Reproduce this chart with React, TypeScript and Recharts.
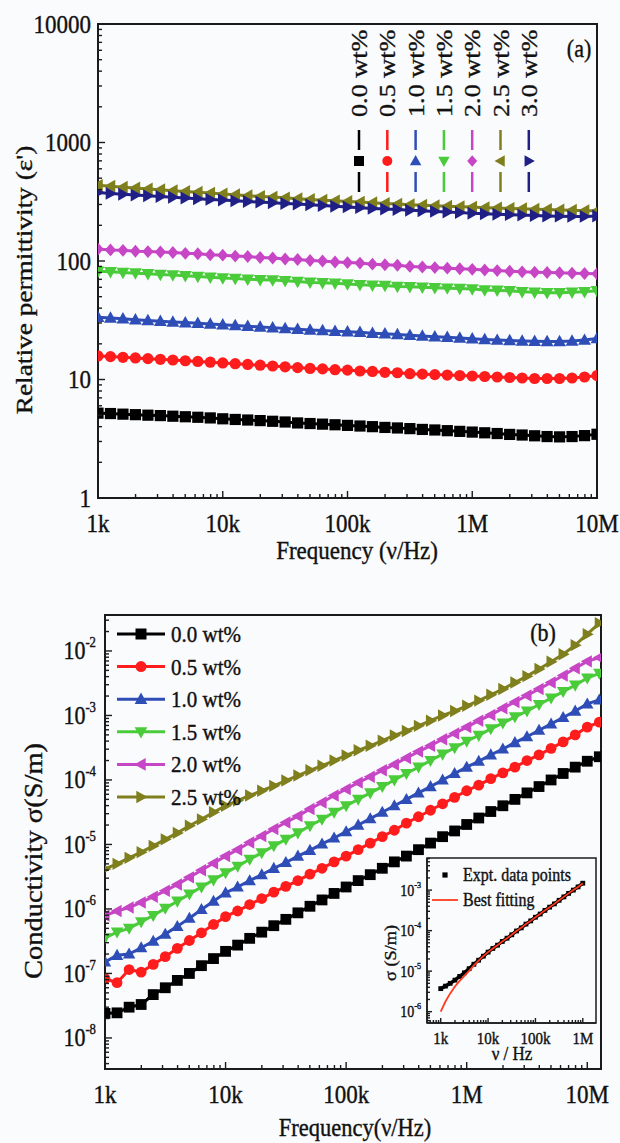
import React from 'react';
import { LineChart, Line, XAxis, YAxis, ReferenceArea } from 'recharts';

const FONT = '"Liberation Serif", "Times New Roman", Times, serif';
const K = 1.14;
const AX = '#1b1b1b';
const BG = '#fafbfd';
const TXT = '#111';

// ---------- Panel (a): relative permittivity ----------
const freqA = [1000, 1259, 1585, 1995, 2512, 3162, 3981, 5012, 6310, 7943,
  10000, 12589, 15849, 19953, 25119, 31623, 39811, 50119, 63096, 79433,
  100000, 125893, 158489, 199526, 251189, 316228, 398107, 501187, 630957, 794328,
  1000000, 1258925, 1584893, 1995262, 2511886, 3162278, 3981072, 5011872, 6309573, 7943282,
  10000000];

const epsA00 = [5.2, 5.16, 5.1, 5.05, 5.0, 4.96, 4.9, 4.85, 4.8, 4.74, 4.66, 4.6, 4.55, 4.5, 4.44, 4.38, 4.3, 4.25, 4.2, 4.15, 4.1, 4.05, 4.0, 3.94, 3.9, 3.85, 3.79, 3.75, 3.7, 3.65, 3.6, 3.55, 3.5, 3.44, 3.4, 3.35, 3.3, 3.28, 3.3, 3.36, 3.45];
const epsA05 = [15.8, 15.6, 15.4, 15.2, 15.0, 14.8, 14.6, 14.4, 14.2, 14.0, 13.8, 13.6, 13.4, 13.2, 13.0, 12.8, 12.6, 12.4, 12.3, 12.1, 12.0, 11.8, 11.7, 11.5, 11.4, 11.2, 11.1, 11.0, 10.9, 10.8, 10.7, 10.6, 10.5, 10.4, 10.3, 10.2, 10.2, 10.2, 10.3, 10.5, 10.8];
const epsA10 = [33.5, 33, 32.5, 32, 31.5, 31, 30.6, 30.2, 29.8, 29.4, 29.0, 28.6, 28.2, 27.8, 27.4, 27.0, 26.6, 26.2, 25.9, 25.6, 25.3, 25.0, 24.6, 24.3, 24.0, 23.6, 23.3, 23.0, 22.7, 22.4, 22.1, 21.8, 21.5, 21.3, 21.1, 21.0, 20.9, 20.9, 21.1, 21.5, 22.2];
const epsA15 = [82, 81, 80, 79, 78, 77, 76, 75, 74, 73, 72, 71, 70, 69.5, 69, 68, 67, 66, 65.5, 65, 64, 63, 62.5, 62, 61, 60.5, 60, 59.5, 59, 58.5, 58, 57, 56.5, 56, 55, 54.5, 54, 54, 54.5, 55, 56];
const epsA20 = [126, 124, 123, 121, 120, 119, 118, 116, 115, 113, 112, 110, 109, 107, 106, 104, 103, 101, 100, 98, 97, 96, 94, 93, 92, 90, 89, 88, 87, 86, 85, 84, 83, 82, 81, 80.5, 80, 79.5, 79, 78.5, 78];
const epsA25 = [435, 428, 420, 413, 406, 399, 392, 386, 380, 374, 368, 362, 356, 351, 346, 341, 336, 331, 326, 322, 318, 314, 310, 306, 302, 299, 296, 293, 290, 287, 285, 282, 280, 278, 276, 274, 272, 270, 268, 266, 265];
const epsA30 = [378, 372, 366, 360, 355, 350, 345, 340, 335, 331, 327, 322, 318, 314, 310, 306, 302, 298, 294, 290, 286, 282, 278, 275, 272, 268, 265, 262, 259, 256, 253, 250, 248, 246, 244, 242, 240, 239, 238, 238, 240];

const labelsA = ['0.0 wt%', '0.5 wt%', '1.0 wt%', '1.5 wt%', '2.0 wt%', '2.5 wt%', '3.0 wt%'];
const colorsA = ['#000000', '#ff1c1c', '#2e4db6', '#4acb3a', '#c646c6', '#7f7f1e', '#1f1f86'];
const shapesA = ['square', 'circle', 'up', 'down', 'diamond', 'left', 'right'];
const valuesA = [epsA00, epsA05, epsA10, epsA15, epsA20, epsA25, epsA30];

const xDomA = [1000, 10000000];
const yDomA = [1, 10000];
const xMajorA = [1000, 10000, 100000, 1000000, 10000000];
const xLabelsA = ['1k', '10k', '100k', '1M', '10M'];
const yMajorA = [1, 10, 100, 1000, 10000];
const yLabelsA = ['1', '10', '100', '1000', '10000'];

// ---------- Panel (b): conductivity ----------
const freqB = [1000, 1259, 1585, 1995, 2512, 3162, 3981, 5012, 6310, 7943,
  10000, 12589, 15849, 19953, 25119, 31623, 39811, 50119, 63096, 79433,
  100000, 125893, 158489, 199526, 251189, 316228, 398107, 501187, 630957, 794328,
  1000000, 1258925, 1584893, 1995262, 2511886, 3162278, 3981072, 5011872, 6309573, 7943282,
  10000000, 12589254];

const sigB00 = [2.4e-8, 2.45e-8, 3.0e-8, 3.3e-8, 4.7e-8, 6.0e-8, 7.8e-8, 1.0e-7, 1.32e-7, 1.7e-7, 2.2e-7, 2.75e-7, 3.5e-7, 4.37e-7, 5.5e-7, 6.9e-7, 8.7e-7, 1.1e-6, 1.38e-6, 1.74e-6, 2.19e-6, 2.75e-6, 3.4e-6, 4.27e-6, 5.37e-6, 6.6e-6, 8.3e-6, 1.05e-5, 1.32e-5, 1.62e-5, 2.04e-5, 2.57e-5, 3.24e-5, 3.98e-5, 5.0e-5, 6.3e-5, 7.9e-5, 1.0e-4, 1.26e-4, 1.58e-4, 1.95e-4, 2.29e-4];
const sigB05 = [8.3e-8, 7.2e-8, 1.15e-7, 1.05e-7, 1.38e-7, 1.82e-7, 2.45e-7, 3.24e-7, 4.27e-7, 5.75e-7, 7.6e-7, 9.3e-7, 1.17e-6, 1.45e-6, 1.82e-6, 2.24e-6, 2.75e-6, 3.47e-6, 4.27e-6, 5.37e-6, 6.6e-6, 8.3e-6, 1.05e-5, 1.32e-5, 1.66e-5, 2.14e-5, 2.69e-5, 3.39e-5, 4.27e-5, 5.37e-5, 6.8e-5, 8.3e-5, 1.05e-4, 1.29e-4, 1.58e-4, 2.0e-4, 2.45e-4, 3.09e-4, 3.89e-4, 5.0e-4, 6.6e-4, 7.9e-4];
const sigB10 = [1.51e-7, 1.91e-7, 2.0e-7, 2.5e-7, 3.16e-7, 4.07e-7, 5.37e-7, 7.2e-7, 9.8e-7, 1.32e-6, 1.78e-6, 2.19e-6, 2.75e-6, 3.39e-6, 4.27e-6, 5.25e-6, 6.6e-6, 8.1e-6, 1.02e-5, 1.26e-5, 1.58e-5, 2.0e-5, 2.51e-5, 3.16e-5, 3.98e-5, 5.0e-5, 6.3e-5, 7.9e-5, 1.0e-4, 1.26e-4, 1.58e-4, 1.95e-4, 2.45e-4, 3.02e-4, 3.8e-4, 4.68e-4, 5.9e-4, 7.4e-4, 9.3e-4, 1.17e-3, 1.51e-3, 1.74e-3];
const sigB15 = [3.55e-7, 4.37e-7, 5.0e-7, 6.3e-7, 7.9e-7, 1.02e-6, 1.32e-6, 1.7e-6, 2.19e-6, 2.82e-6, 3.63e-6, 4.57e-6, 5.9e-6, 7.4e-6, 9.5e-6, 1.2e-5, 1.51e-5, 1.95e-5, 2.45e-5, 3.16e-5, 3.98e-5, 5.0e-5, 6.3e-5, 7.9e-5, 1.0e-4, 1.26e-4, 1.58e-4, 2.0e-4, 2.51e-4, 3.16e-4, 3.98e-4, 4.9e-4, 6.2e-4, 7.6e-4, 9.5e-4, 1.17e-3, 1.48e-3, 1.86e-3, 2.34e-3, 2.95e-3, 3.8e-3, 4.5e-3];
const sigB20 = [7.9e-7, 9.3e-7, 1.05e-6, 1.26e-6, 1.55e-6, 1.91e-6, 2.4e-6, 3.09e-6, 3.98e-6, 5.1e-6, 6.6e-6, 8.3e-6, 1.07e-5, 1.35e-5, 1.74e-5, 2.19e-5, 2.75e-5, 3.55e-5, 4.47e-5, 5.75e-5, 7.2e-5, 9.1e-5, 1.12e-4, 1.41e-4, 1.74e-4, 2.19e-4, 2.75e-4, 3.39e-4, 4.27e-4, 5.25e-4, 6.6e-4, 8.3e-4, 1.02e-3, 1.29e-3, 1.62e-3, 2.04e-3, 2.57e-3, 3.24e-3, 4.17e-3, 5.4e-3, 6.9e-3, 7.9e-3];
const sigB25 = [4.17e-6, 5.0e-6, 6.2e-6, 7.6e-6, 9.5e-6, 1.2e-5, 1.51e-5, 1.95e-5, 2.45e-5, 3.16e-5, 3.98e-5, 4.79e-5, 5.75e-5, 6.8e-5, 8.1e-5, 9.8e-5, 1.17e-4, 1.41e-4, 1.66e-4, 2.0e-4, 2.4e-4, 2.88e-4, 3.39e-4, 4.07e-4, 4.9e-4, 5.75e-4, 6.9e-4, 8.3e-4, 1.0e-3, 1.17e-3, 1.41e-3, 1.7e-3, 2.09e-3, 2.57e-3, 3.24e-3, 4.07e-3, 5.25e-3, 6.8e-3, 8.9e-3, 1.23e-2, 1.82e-2, 2.7e-2];

const labelsB = ['0.0 wt%', '0.5 wt%', '1.0 wt%', '1.5 wt%', '2.0 wt%', '2.5 wt%'];
const colorsB = ['#000000', '#ff1c1c', '#2e4db6', '#4acb3a', '#c646c6', '#7f7f1e'];
const shapesB = ['square', 'circle', 'up', 'down', 'left', 'right'];
const valuesB = [sigB00, sigB05, sigB10, sigB15, sigB20, sigB25];

const xDomB = [1000, 13000000];
const yDomB = [3.3e-9, 0.0361];
const xMajorB = [1000, 10000, 100000, 1000000, 10000000];
const xLabelsB = ['1k', '10k', '100k', '1M', '10M'];
const yMajorB = [1e-8, 1e-7, 1e-6, 1e-5, 1e-4, 1e-3, 1e-2];
const yExpB = ['-8', '-7', '-6', '-5', '-4', '-3', '-2'];

// ---------- Inset ----------
const freqIn = [1000, 1259, 1585, 1995, 2512, 3162, 3981, 5012, 6310, 7943,
  10000, 12589, 15849, 19953, 25119, 31623, 39811, 50119, 63096, 79433,
  100000, 125893, 158489, 199526, 251189, 316228, 398107, 501187, 630957, 794328,
  1000000];
const exptIn = [3.7e-6, 4.27e-6, 5.0e-6, 6.0e-6, 7.4e-6, 9.1e-6, 1.15e-5, 1.48e-5, 1.86e-5, 2.34e-5, 2.95e-5, 3.63e-5, 4.37e-5, 5.4e-5, 6.5e-5, 7.9e-5, 9.8e-5, 1.17e-4, 1.45e-4, 1.74e-4, 2.14e-4, 2.57e-4, 3.16e-4, 3.8e-4, 4.57e-4, 5.6e-4, 6.8e-4, 8.3e-4, 1.0e-3, 1.2e-3, 1.48e-3];
const fitIn = [1.0e-6, 1.78e-6, 2.82e-6, 4.17e-6, 5.75e-6, 7.6e-6, 1.02e-5, 1.38e-5, 1.82e-5, 2.34e-5, 2.95e-5, 3.63e-5, 4.37e-5, 5.4e-5, 6.5e-5, 7.9e-5, 9.8e-5, 1.17e-4, 1.45e-4, 1.74e-4, 2.14e-4, 2.57e-4, 3.16e-4, 3.8e-4, 4.57e-4, 5.6e-4, 6.8e-4, 8.3e-4, 1.0e-3, 1.2e-3, 1.48e-3];
const xDomIn = [513, 1900000];
const yDomIn = [5.25e-7, 6.2e-3];
const xMajorIn = [1000, 10000, 100000, 1000000];
const xLabelsIn = ['1k', '10k', '100k', '1M'];
const yMajorIn = [1e-6, 1e-5, 1e-4, 1e-3];
const yExpIn = ['-6', '-5', '-4', '-3'];

// ---------- helpers ----------
function minorTicks(majorsFrom: number[], lo: number, hi: number) {
  const out: number[] = [];
  majorsFrom.forEach((m) => {
    for (let k = 2; k <= 9; k++) {
      const v = m * k;
      if (v >= lo && v <= hi) out.push(v);
    }
  });
  return out;
}
function withMinors(majors: number[], decades: number[], dom: number[]) {
  const all = [...majors.filter((m) => m >= dom[0] && m <= dom[1]), ...minorTicks(decades, dom[0], dom[1])];
  return all.sort((a, b) => a - b);
}
function findMajor(v: number, majors: number[]) {
  return majors.findIndex((m) => Math.abs(v - m) <= Math.abs(m) * 1e-6);
}

function Marker({ cx, cy, shape, color, r }: any) {
  if (cx == null || cy == null || isNaN(cx) || isNaN(cy)) return <g />;
  switch (shape) {
    case 'square':
      return <rect x={cx - r} y={cy - r} width={2 * r} height={2 * r} fill={color} />;
    case 'circle':
      return <circle cx={cx} cy={cy} r={r} fill={color} />;
    case 'up':
      return <path d={`M${cx},${cy - r * 1.2}L${cx + r * 1.15},${cy + r * 0.85}L${cx - r * 1.15},${cy + r * 0.85}Z`} fill={color} />;
    case 'down':
      return <path d={`M${cx},${cy + r * 1.2}L${cx + r * 1.15},${cy - r * 0.85}L${cx - r * 1.15},${cy - r * 0.85}Z`} fill={color} />;
    case 'left':
      return <path d={`M${cx - r * 1.2},${cy}L${cx + r * 0.85},${cy - r * 1.15}L${cx + r * 0.85},${cy + r * 1.15}Z`} fill={color} />;
    case 'right':
      return <path d={`M${cx + r * 1.2},${cy}L${cx - r * 0.85},${cy - r * 1.15}L${cx - r * 0.85},${cy + r * 1.15}Z`} fill={color} />;
    default:
      return <path d={`M${cx},${cy - r * 1.15}L${cx + r},${cy}L${cx},${cy + r * 1.15}L${cx - r},${cy}Z`} fill={color} />;
  }
}

const TEXT_STROKE = { stroke: TXT, strokeWidth: 0.35 };

function xTick(majors: number[], labels: string[], o: { maj: number; min: number; fs: number; dy: number }) {
  return (p: any) => {
    const i = findMajor(p.payload.value, majors);
    const len = i >= 0 ? o.maj : o.min;
    return (
      <g>
        <line x1={p.x} x2={p.x} y1={p.y} y2={p.y - len} stroke={AX} strokeWidth={1.4} />
        {i >= 0 ? (
          <text transform={`translate(${p.x},${p.y + o.dy}) scale(1,${K})`} textAnchor="middle" dominantBaseline="central" fontFamily={FONT} fontSize={o.fs} fill={TXT} {...TEXT_STROKE}>
            {labels[i]}
          </text>
        ) : null}
      </g>
    );
  };
}

function yTick(majors: number[], label: (i: number, fs: number) => React.ReactNode, o: { maj: number; min: number; fs: number; dx: number }) {
  return (p: any) => {
    const i = findMajor(p.payload.value, majors);
    const len = i >= 0 ? o.maj : o.min;
    return (
      <g>
        <line x1={p.x} x2={p.x + len} y1={p.y} y2={p.y} stroke={AX} strokeWidth={1.4} />
        {i >= 0 ? (
          <text transform={`translate(${p.x - o.dx},${p.y + o.fs * 0.34 * K}) scale(1,${K})`} textAnchor="end" fontFamily={FONT} fontSize={o.fs} fill={TXT} {...TEXT_STROKE}>
            {label(i, o.fs)}
          </text>
        ) : null}
      </g>
    );
  };
}

const plainLabel = (labels: string[]) => (i: number) => labels[i];
const powLabel = (exps: string[]) => (i: number, fs: number) => [
  <tspan key="b">10</tspan>,
  <tspan key="e" dy={-fs * 0.48} fontSize={fs * 0.58}>{exps[i]}</tspan>,
];

function SText({ x, y, fs, anchor = 'middle', rotate = false, children }: any) {
  const tf = rotate ? `translate(${x},${y}) rotate(-90) scale(${K},1)` : `translate(${x},${y}) scale(1,${K})`;
  return (
    <text transform={tf} textAnchor={anchor} dominantBaseline="central" fontFamily={FONT} fontSize={fs} fill={TXT} {...TEXT_STROKE}>
      {children}
    </text>
  );
}

function buildRows(freqs: number[], series: number[][]) {
  return freqs.map((f, j) => {
    const r: any = { f };
    series.forEach((arr, i) => {
      r['s' + i] = arr[j];
    });
    return r;
  });
}

const rowsA = buildRows(freqA, valuesA);
const rowsB = buildRows(freqB, valuesB);
const rowsIn = buildRows(freqIn, [exptIn, fitIn]);

const xTicksA = withMinors(xMajorA, [1e3, 1e4, 1e5, 1e6], xDomA);
const yTicksA = withMinors(yMajorA, [1, 10, 100, 1000], yDomA);
const xTicksB = withMinors(xMajorB, [1e3, 1e4, 1e5, 1e6, 1e7], xDomB);
const yTicksB = withMinors(yMajorB, [1e-9, 1e-8, 1e-7, 1e-6, 1e-5, 1e-4, 1e-3, 1e-2], yDomB);
const xTicksIn = withMinors(xMajorIn, [1e2, 1e3, 1e4, 1e5, 1e6], xDomIn);
const yTicksIn = withMinors(yMajorIn, [1e-7, 1e-6, 1e-5, 1e-4, 1e-3], yDomIn);

const axisLine = { stroke: AX, strokeWidth: 2 };

function PanelA() {
  return (
    <LineChart width={620} height={560} data={rowsA} margin={{ top: 24, right: 23, bottom: 22, left: 38 }}>
      <XAxis dataKey="f" type="number" scale="log" domain={xDomA} allowDataOverflow ticks={xTicksA} interval={0}
        tickLine={false} tickSize={0} tickMargin={0} height={40} axisLine={axisLine}
        tick={xTick(xMajorA, xLabelsA, { maj: 7, min: 4, fs: 23, dy: 25 })} />
      <YAxis type="number" scale="log" domain={yDomA} allowDataOverflow ticks={yTicksA} interval={0}
        tickLine={false} tickSize={0} tickMargin={0} width={60} axisLine={axisLine}
        tick={yTick(yMajorA, plainLabel(yLabelsA), { maj: 7, min: 4, fs: 23, dx: 7 })} />
      <ReferenceArea x1={xDomA[0]} x2={xDomA[1]} y1={yDomA[0]} y2={yDomA[1]} fill="none" stroke={AX} strokeWidth={2} />
      {valuesA.map((_, i) => (
        <Line key={'a' + i} dataKey={'s' + i} type="linear" stroke={colorsA[i]} strokeWidth={3} isAnimationActive={false}
          dot={(p: any) => <Marker key={'ad' + i + '-' + p.index} cx={p.cx} cy={p.cy} shape={shapesA[i]} color={colorsA[i]} r={5.6} />} />
      ))}
    </LineChart>
  );
}

function PanelB() {
  return (
    <LineChart width={620} height={583} data={rowsB} margin={{ top: 55, right: 19, bottom: 34, left: 45 }}>
      <XAxis dataKey="f" type="number" scale="log" domain={xDomB} allowDataOverflow ticks={xTicksB} interval={0}
        tickLine={false} tickSize={0} tickMargin={0} height={40} axisLine={axisLine}
        tick={xTick(xMajorB, xLabelsB, { maj: 7, min: 4, fs: 23, dy: 25 })} />
      <YAxis type="number" scale="log" domain={yDomB} allowDataOverflow ticks={yTicksB} interval={0}
        tickLine={false} tickSize={0} tickMargin={0} width={60} axisLine={axisLine}
        tick={yTick(yMajorB, powLabel(yExpB), { maj: 7, min: 4, fs: 22, dx: 9 })} />
      <ReferenceArea x1={xDomB[0]} x2={xDomB[1]} y1={yDomB[0]} y2={yDomB[1]} fill="none" stroke={AX} strokeWidth={2} />
      {valuesB.map((_, i) => (
        <Line key={'b' + i} dataKey={'s' + i} type="linear" stroke={colorsB[i]} strokeWidth={3} isAnimationActive={false}
          dot={(p: any) => <Marker key={'bd' + i + '-' + p.index} cx={p.cx} cy={p.cy} shape={shapesB[i]} color={colorsB[i]} r={5.4} />} />
      ))}
    </LineChart>
  );
}

function Inset() {
  return (
    <LineChart width={230} height={230} data={rowsIn} margin={{ top: 18, right: 14, bottom: 17, left: 7 }}>
      <XAxis dataKey="f" type="number" scale="log" domain={xDomIn} allowDataOverflow ticks={xTicksIn} interval={0}
        tickLine={false} tickSize={0} tickMargin={0} height={30} axisLine={{ stroke: AX, strokeWidth: 1.5 }}
        tick={xTick(xMajorIn, xLabelsIn, { maj: 5, min: 3, fs: 15, dy: 15 })} />
      <YAxis type="number" scale="log" domain={yDomIn} allowDataOverflow ticks={yTicksIn} interval={0}
        tickLine={false} tickSize={0} tickMargin={0} width={40} axisLine={{ stroke: AX, strokeWidth: 1.5 }}
        tick={yTick(yMajorIn, powLabel(yExpIn), { maj: 5, min: 3, fs: 14, dx: 6 })} />
      <ReferenceArea x1={xDomIn[0]} x2={xDomIn[1]} y1={yDomIn[0]} y2={yDomIn[1]} fill="none" stroke={AX} strokeWidth={1.5} />
      <Line dataKey="s0" type="linear" stroke="#000" strokeWidth={3.5} isAnimationActive={false}
        dot={(p: any) => <Marker key={'ie' + p.index} cx={p.cx} cy={p.cy} shape="square" color="#000" r={2.4} />} />
    </LineChart>
  );
}

// The fitted curve drawn in a transparent chart stacked on the inset with identical scales, so it sits above the data points.
function InsetFit() {
  return (
    <LineChart width={230} height={230} data={rowsIn} margin={{ top: 18, right: 14, bottom: 47, left: 47 }}>
      <XAxis hide dataKey="f" type="number" scale="log" domain={xDomIn} allowDataOverflow />
      <YAxis hide type="number" scale="log" domain={yDomIn} allowDataOverflow />
      <Line dataKey="s1" type="linear" stroke="#ff3b1f" strokeWidth={1.8} isAnimationActive={false} dot={false} />
    </LineChart>
  );
}

function Overlay() {
  return (
    <svg width={620} height={1143} style={{ position: 'absolute', left: 0, top: 0, pointerEvents: 'none' }}>
      {/* panel (a) texts */}
      <SText x={24} y={280} fs={24} rotate>Relative permittivity (ε')</SText>
      <SText x={357} y={550} fs={23}>Frequency (ν/Hz)</SText>
      <SText x={579} y={48} fs={22}>(a)</SText>
      {labelsA.map((lab, i) => {
        const x = 359 + 28.3 * i;
        return (
          <g key={'la' + i}>
            <text transform={`translate(${x + 8},117) rotate(-90) scale(${K},1)`} textAnchor="start" fontFamily={FONT} fontSize={23} fill={TXT} {...TEXT_STROKE}>{lab}</text>
            <line x1={x} x2={x} y1={130} y2={150} stroke={colorsA[i]} strokeWidth={2.5} />
            <line x1={x} x2={x} y1={172} y2={192} stroke={colorsA[i]} strokeWidth={2.5} />
            <Marker cx={x} cy={161} shape={shapesA[i]} color={colorsA[i]} r={5} />
          </g>
        );
      })}
      {/* panel (b) texts */}
      <SText x={34} y={861} fs={25} rotate>Conductivity σ(S/m)</SText>
      <SText x={355} y={1127} fs={22.5}>Frequency(ν/Hz)</SText>
      <SText x={543} y={632} fs={22}>(b)</SText>
      {labelsB.map((lab, i) => {
        const y = 634 + 32.6 * i;
        return (
          <g key={'lb' + i}>
            <line x1={117} x2={165} y1={y} y2={y} stroke={colorsB[i]} strokeWidth={3} />
            <Marker cx={141} cy={y} shape={shapesB[i]} color={colorsB[i]} r={5.5} />
            <SText x={171} y={y} fs={21} anchor="start">{lab}</SText>
          </g>
        );
      })}
      {/* inset texts */}
      <SText x={391} y={953} fs={16} rotate>σ (S/m)</SText>
      <SText x={512} y={1054} fs={17}>ν / Hz</SText>
      <Marker cx={445} cy={875} shape="square" color="#000" r={2.6} />
      <SText x={463} y={875} fs={16} anchor="start">Expt. data points</SText>
      <line x1={432} x2={458} y1={900} y2={900} stroke="#ff3b1f" strokeWidth={1.8} />
      <SText x={463} y={900} fs={16} anchor="start">Best fitting</SText>
    </svg>
  );
}

export default function App() {
  return (
    <div style={{ position: 'absolute', left: 0, top: 0, width: 620, height: 1143, background: BG, overflow: 'hidden' }}>
      <div style={{ position: 'absolute', left: 0, top: 0 }}>
        <PanelA />
      </div>
      <div style={{ position: 'absolute', left: 0, top: 560 }}>
        <PanelB />
      </div>
      <div style={{ position: 'absolute', left: 380, top: 840 }}>
        <Inset />
      </div>
      <div style={{ position: 'absolute', left: 380, top: 840 }}>
        <InsetFit />
      </div>
      <Overlay />
    </div>
  );
}
